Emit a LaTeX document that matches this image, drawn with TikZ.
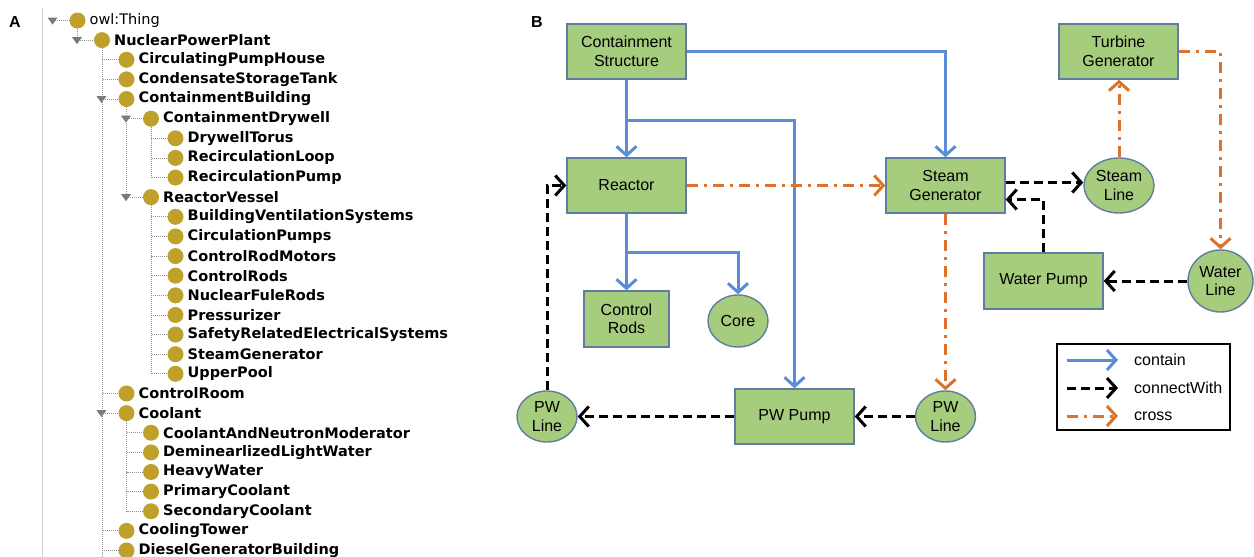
\documentclass[tikz,border=0pt]{standalone}
\usepackage{fontspec}
\setmainfont{Liberation Sans}
\newfontfamily\treefont{DejaVu Sans}
\usetikzlibrary{arrows.meta,shapes.geometric,calc}

\definecolor{boxfill}{RGB}{166,204,125}
\definecolor{boxline}{RGB}{95,125,160}
\definecolor{containblue}{RGB}{90,140,215}
\definecolor{crossorange}{RGB}{220,115,45}
\definecolor{owlgold}{RGB}{191,160,42}
\definecolor{treegray}{RGB}{150,150,150}

\tikzset{
  block/.style={draw=boxline, fill=boxfill, line width=1.4pt, minimum width=119pt,
    minimum height=55pt, inner sep=0pt, align=center, font=\fontsize{16}{18.5}\selectfont},
  pipe/.style={ellipse, draw=boxline, fill=boxfill, line width=1.4pt, inner sep=0pt,
    align=center, font=\fontsize{16}{18.5}\selectfont},
  link/.style={line width=3pt, -{Straight Barb[length=9pt,width=20pt]}},
  contain/.style={link, draw=containblue},
  connect/.style={link, draw=black, dash pattern=on 9pt off 5pt},
  cross/.style={link, draw=crossorange, dash pattern=on 11pt off 6pt on 3pt off 6pt},
  owldot/.style={circle, fill=owlgold, inner sep=0pt, minimum size=16pt},
  owltext/.style={anchor=west, inner sep=1pt, font=\treefont\fontsize{14.5}{17}\selectfont},
  treeline/.style={draw=treegray, line width=0.8pt, dash pattern=on 1pt off 1pt},
  panel/.style={font=\bfseries\fontsize{16}{19}\selectfont}
}

\begin{document}
\begin{tikzpicture}[x=1pt,y=-1pt]
\useasboundingbox (0,0) rectangle (1254,557);

% panel A: class tree
\node[panel] (labA) at (15,22) {A};
\draw[gray!35, line width=0.6pt] (42,8) -- (42,557);
\coordinate (pbot) at (0,557);
\foreach \lvl/\up/\txt/\open [count=\i from 0] in {
    0/-1/owl:Thing/1, 1/0/NuclearPowerPlant/1,
    2/1/CirculatingPumpHouse/0, 2/1/CondensateStorageTank/0,
    2/1/ContainmentBuilding/1, 3/4/ContainmentDrywell/1,
    4/5/DrywellTorus/0, 4/5/RecirculationLoop/0, 4/5/RecirculationPump/0,
    3/4/ReactorVessel/1, 4/9/BuildingVentilationSystems/0,
    4/9/CirculationPumps/0, 4/9/ControlRodMotors/0, 4/9/ControlRods/0,
    4/9/NuclearFuleRods/0, 4/9/Pressurizer/0,
    4/9/SafetyRelatedElectricalSystems/0, 4/9/SteamGenerator/0,
    4/9/UpperPool/0, 2/1/ControlRoom/0, 2/1/Coolant/1,
    3/20/CoolantAndNeutronModerator/0, 3/20/DeminearlizedLightWater/0,
    3/20/HeavyWater/0, 3/20/PrimaryCoolant/0, 3/20/SecondaryCoolant/0,
    2/1/CoolingTower/0, 2/1/DieselGeneratorBuilding/0}
{
  \coordinate (c\i) at ({77.5+24.5*\lvl},{20.5+19.63*\i});
  \ifnum\up>-1
    \draw[treeline] (c\up) |- (c\i);
  \else
    \draw[treeline] ($(c\i)+(-25,0)$) -- (c\i);
  \fi
  \ifnum\open=1
    \fill[treegray!80!black] ($(c\i)+(-30,-3)$) -- ++(10,0) -- ++(-5,7) -- cycle;
  \fi
}
\draw[treeline] (c1) -- (c1 |- pbot);
\foreach \txt [count=\i from 0] in {
    owl:Thing, NuclearPowerPlant, CirculatingPumpHouse, CondensateStorageTank,
    ContainmentBuilding, ContainmentDrywell, DrywellTorus, RecirculationLoop,
    RecirculationPump, ReactorVessel, BuildingVentilationSystems,
    CirculationPumps, ControlRodMotors, ControlRods, NuclearFuleRods,
    Pressurizer, SafetyRelatedElectricalSystems, SteamGenerator, UpperPool,
    ControlRoom, Coolant, CoolantAndNeutronModerator, DeminearlizedLightWater,
    HeavyWater, PrimaryCoolant, SecondaryCoolant, CoolingTower,
    DieselGeneratorBuilding}
{
  \node[owldot] (d\i) at (c\i) {};
  \node[owltext] (n\i) at ($(c\i)+(11,0)$) {\ifnum\i>0 \bfseries\fi\txt};
}

% panel B: component relations
\node[panel] (labB) at (537,22) {B};
\node[block] (cs) at (626.5,51.5) {Containment\\Structure};
\node[block] (reactor) at (626.5,185.5) {Reactor};
\node[block, minimum width=85pt, minimum height=56pt] (rods) at (626.5,319) {Control\\Rods};
\node[pipe, minimum width=60pt, minimum height=52pt] (core) at (738,321) {Core};
\node[pipe, minimum width=60pt, minimum height=51pt] (pwl) at (547,416.5) {PW\\Line};
\node[block] (pwp) at (794.5,416.5) {PW Pump};
\node[pipe, minimum width=60pt, minimum height=51pt] (pwr) at (945.5,416.5) {PW\\Line};
\node[block] (sg) at (945.5,185.5) {Steam\\Generator};
\node[block] (tg) at (1118.5,51.5) {Turbine\\Generator};
\node[pipe, minimum width=70pt, minimum height=55pt] (sl) at (1119,185.5) {Steam\\Line};
\node[block, minimum height=56pt] (wp) at (1043.5,281) {Water Pump};
\node[pipe, minimum width=65pt, minimum height=62pt] (wl) at (1220.5,281) {Water\\Line};

% contain
\coordinate (csj) at (626.5,120);
\coordinate (rj) at (626.5,252);
\draw[contain] (cs) -- (reactor);
\draw[contain] (csj) -| (pwp.north);
\draw[contain] (cs.east) -| (sg.north);
\draw[contain] (reactor) -- (rods);
\draw[contain] (rj) -| (core.north);

% connectWith
\draw[connect] (pwp.west) -- (pwl.east);
\draw[connect] (pwl.north) |- (reactor.west);
\draw[connect] (pwr.west) -- (pwp.east);
\draw[connect] ($(sg.east)+(0,-3)$) -- ($(sl.west)+(0,-3)$);
\draw[connect] (wp.north) |- ($(sg.east)+(0,14)$);
\draw[connect] (wl.west) -- (wp.east);

% cross
\draw[cross] (reactor.east) -- (sg.west);
\draw[cross] (sg.south) -- (pwr.north);
\draw[cross] (sl.north) -- (sl.north |- tg.south);
\draw[cross] (tg.east) -| (wl.north);

% legend
\node[draw, line width=1.4pt, minimum width=173pt, minimum height=86pt] (legend) at (1143.5,387) {};
\foreach \sty/\lab [count=\k from 0] in {contain/contain, connect/connectWith, cross/cross}
{
  \coordinate (la\k) at (1067,{360+28*\k});
  \coordinate (lb\k) at (1118,{360+28*\k});
  \draw[\sty] (la\k) -- (lb\k);
  \node[anchor=west, inner sep=0pt, font=\fontsize{16}{18.5}\selectfont] (lt\k) at (1134,{360+28*\k}) {\lab};
}
\end{tikzpicture}
\end{document}
